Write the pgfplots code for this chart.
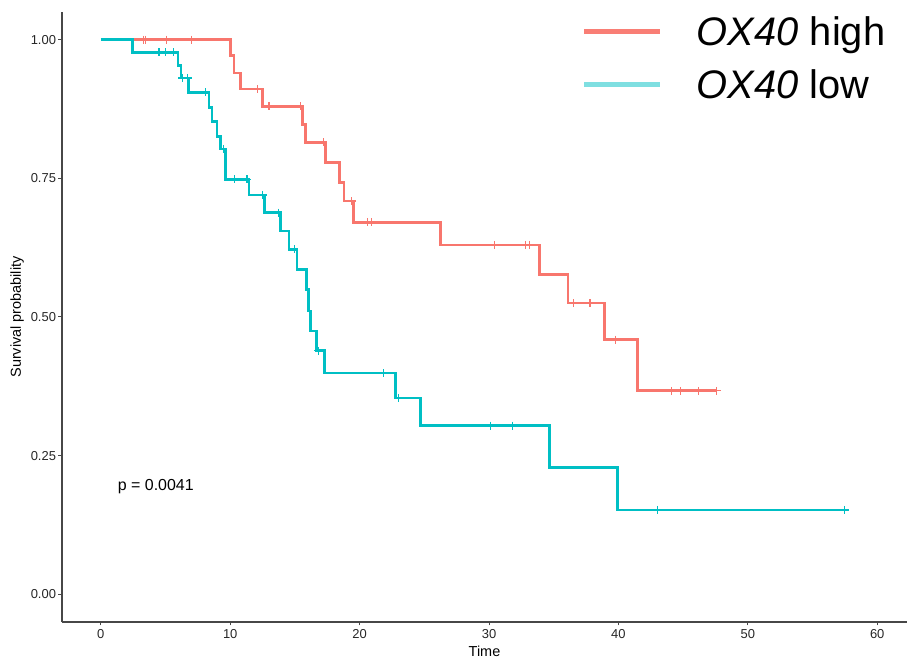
\documentclass[border=0pt]{standalone}
\usepackage{fontspec}
\setmainfont{Liberation Sans}
\usepackage{pgfplots}
\pgfplotsset{compat=1.18}
\definecolor{kmred}{HTML}{F8766D}
\definecolor{kmteal}{HTML}{00BFC4}
\definecolor{legred}{HTML}{F97E75}
\definecolor{legteal}{HTML}{7FDFE1}
\begin{document}
\begin{tikzpicture}
\begin{axis}[
  scale only axis, width=845bp, height=610bp,
  xmin=-3, xmax=62.3, ymin=-0.05, ymax=1.05,
  axis lines=left,
  axis line style={-, line width=1.2bp, black!72},
  xtick={0,10,...,60},
  ytick={0,0.25,0.5,0.75,1},
  yticklabels={0.00,0.25,0.50,0.75,1.00},
  tick align=outside, major tick length=3.5bp,
  tick style={line width=1bp, black!72},
  /pgf/number format/assume math mode=true,
  ticklabel style={font=\fontsize{13}{15}\selectfont, text=black!85},
  yticklabel style={xshift=1bp},
  xlabel={Time}, ylabel={Survival probability},
  label style={font=\fontsize{14.5}{16}\selectfont},
  xlabel style={yshift=-1bp},
  legend style={at={(rel axis cs:0.615,1.0)}, anchor=north west, draw=none, fill=none,
    font=\fontsize{40}{44}\selectfont, legend cell align=left, row sep=19bp,
    inner sep=0pt, yshift=-2bp},
  legend image code/.code={\draw[#1] (0bp,0bp) -- (76bp,0bp); \path (108bp,0bp);},
]
\coordinate (sw) at (rel axis cs:0,0);
\addlegendimage{line width=5bp, color=legred}
\addlegendentry{\textit{OX40} high}
\addlegendimage{line width=5bp, color=legteal}
\addlegendentry{\textit{OX40} low}

% OX40 high
\addplot[const plot, kmred, line width=2.7bp, forget plot] coordinates {
(0,1.0) (10.0,0.971) (10.3,0.940) (10.8,0.911) (12.5,0.880) (15.6,0.847)
(15.8,0.815) (17.35,0.779) (18.45,0.743) (18.8,0.709) (19.5,0.671)
(26.25,0.630) (33.9,0.577) (36.1,0.525) (38.9,0.459) (41.45,0.367) (47.6,0.367)
};
\addplot[only marks, mark=+, mark size=4bp, kmred, mark options={line width=1.2bp}, forget plot] coordinates {
(3.3,1.0) (3.45,1.0) (5.1,1.0) (7.0,1.0) (12.1,0.911) (13.0,0.880) (15.4,0.880)
(17.2,0.815) (19.4,0.709) (20.6,0.671) (20.9,0.671) (30.4,0.630) (32.8,0.630)
(33.1,0.630) (36.55,0.525) (37.8,0.525) (39.8,0.459) (44.1,0.367) (44.8,0.367)
(46.2,0.367) (47.6,0.367)
};
% OX40 low
\addplot[const plot, kmteal, line width=2.7bp, forget plot] coordinates {
(0,1.0) (2.45,0.977) (5.97,0.953) (6.2,0.931) (6.77,0.905) (8.36,0.878)
(8.6,0.853) (8.98,0.826) (9.27,0.803) (9.65,0.748) (11.45,0.720) (12.64,0.688)
(13.88,0.655) (14.54,0.622) (15.16,0.586) (15.9,0.549) (16.06,0.511) (16.2,0.475)
(16.66,0.439) (17.27,0.399) (22.76,0.354) (24.73,0.304) (34.67,0.228)
(39.95,0.152) (57.5,0.152)
};
\addplot[only marks, mark=+, mark size=4bp, kmteal, mark options={line width=1.2bp}, forget plot] coordinates {
(4.5,0.977) (5.0,0.977) (5.6,0.977) (6.3,0.931) (6.7,0.931) (8.1,0.905)
(9.45,0.803) (10.35,0.748) (11.3,0.748) (12.5,0.720) (13.7,0.688) (14.96,0.622)
(16.8,0.439) (21.85,0.399) (23.0,0.354) (30.1,0.304) (31.8,0.304) (43.0,0.152)
(57.5,0.152)
};
\node[anchor=west, font=\fontsize{16}{18}\selectfont] at (axis cs:1.05,0.194) {p = 0.0041};
\end{axis}
\pgfresetboundingbox
\path (sw) ++(-62bp,-37bp) rectangle ++(907bp,659bp);
\end{tikzpicture}
\end{document}
